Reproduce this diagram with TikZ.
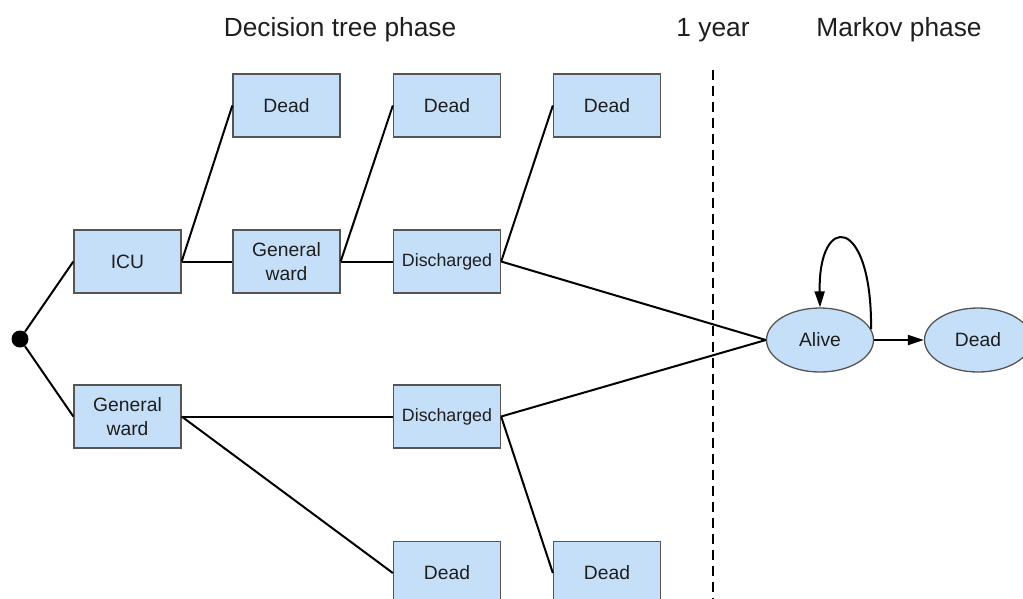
\documentclass[tikz,border=0pt]{standalone}
\usepackage{fontspec}
\setmainfont{Liberation Sans}
\usetikzlibrary{shapes.geometric,arrows.meta}
\definecolor{boxfill}{RGB}{198,223,249}
\definecolor{boxdraw}{RGB}{85,85,85}
\definecolor{txt}{RGB}{30,30,30}
\begin{document}
\begin{tikzpicture}[x=1pt,y=-1pt,
  stbox/.style={draw=boxdraw, fill=boxfill, line width=1.3pt, minimum width=107pt, minimum height=63pt, inner sep=0pt, align=center, text=txt, font=\fontsize{19.3}{24.5}\selectfont},
  smalltxt/.style={font=\fontsize{17.8}{21}\selectfont},
  stell/.style={ellipse, draw=boxdraw, fill=boxfill, line width=1.3pt, minimum width=107pt, minimum height=64pt, inner sep=0pt, text=txt, font=\fontsize{19.3}{22}\selectfont},
  conn/.style={line width=2pt, black},
  tip/.style={-{Triangle[length=16pt,width=10pt]}},
  title/.style={anchor=base, text=txt, font=\fontsize{26.3}{30}\selectfont}
]
\useasboundingbox (0,0) rectangle (1023,598);
\clip (0,0) rectangle (1023,598);

% titles
\node[title] (t1) at (340,36) {Decision tree phase};
\node[title] (t2) at (713,36) {1 year};
\node[title] (t3) at (899,36) {Markov phase};

% dashed divider
\coordinate (dtop) at (713,70);
\coordinate (dbot) at (713,600);
\draw[line width=2pt, dash pattern=on 10pt off 6pt] (dtop) -- (dbot);

% root
\node[circle, fill=black, minimum size=17pt, inner sep=0pt] (root) at (20,339) {};

% boxes
\node[stbox] (icu) at (127.5,261.5) {ICU};
\node[stbox] (gw2) at (127.5,416.5) {General\\ward};
\node[stbox] (dead1) at (286.5,105.5) {Dead};
\node[stbox] (gw1) at (286.5,261.5) {General\\ward};
\node[stbox] (dead2) at (447,105.5) {Dead};
\node[stbox, smalltxt] (dis1) at (447,261.5) {Discharged};
\node[stbox, smalltxt] (dis2) at (447,416.5) {Discharged};
\node[stbox] (dead4) at (447,573) {Dead};
\node[stbox] (dead3) at (607,105.5) {Dead};
\node[stbox] (dead5) at (607,573) {Dead};

% Markov states
\node[stell] (alive) at (820,340) {Alive};
\node[stell] (mdead) at (978,340) {Dead};

% connectors
\draw[conn] (root) -- (icu.west);
\draw[conn] (root) -- (gw2.west);
\draw[conn] (icu.east) -- (dead1.west);
\draw[conn] (icu.east) -- (gw1.west);
\draw[conn] (gw1.east) -- (dead2.west);
\draw[conn] (gw1.east) -- (dis1.west);
\draw[conn] (dis1.east) -- (dead3.west);
\draw[conn] (dis1.east) -- (alive.west);
\draw[conn] (gw2.east) -- (dis2.west);
\draw[conn] (gw2.east) -- (dead4.west);
\draw[conn] (dis2.east) -- (alive.west);
\draw[conn] (dis2.east) -- (dead5.west);

\draw[conn, tip] (alive.east) -- (mdead.west);
\draw[conn, tip] (alive.12) .. controls (872,215) and (818,212) .. (alive.north);
\end{tikzpicture}
\end{document}
